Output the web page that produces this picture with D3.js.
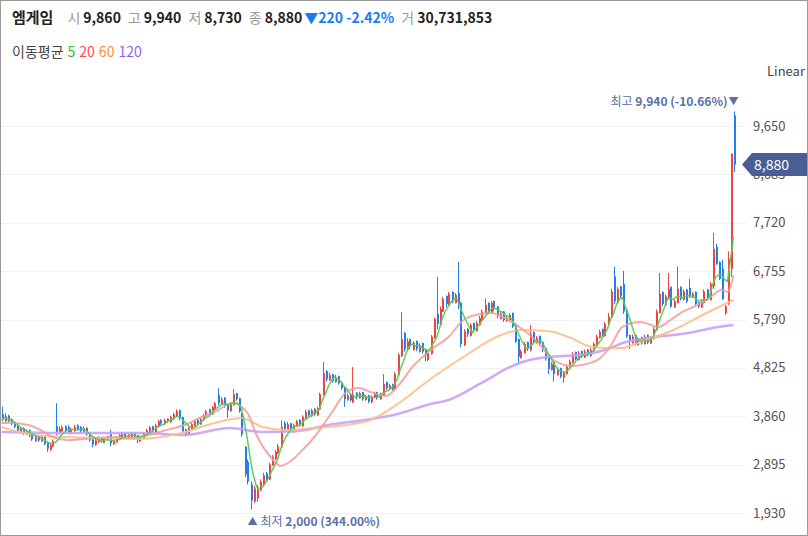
<!DOCTYPE html>
<html>
<head>
<meta charset="utf-8">
<script src="https://cdn.jsdelivr.net/npm/d3@7"></script>
<style>
    html, body { margin: 0; padding: 0; background: #fff; }
    #chart { position: relative; width: 808px; height: 536px; overflow: hidden;
             font-family: "Noto Sans CJK KR", "Noto Sans", sans-serif; }
    #chart svg { position: absolute; left: 0; top: 0; }
    .hdr { position: absolute; left: 12px; top: 6px; font-size: 14px; white-space: nowrap; color: #222; }
    .hdr .name { font-weight: bold; font-size: 15px; margin-right: 14px; }
    .hdr .lb { color: #999; margin-right: 3px; }
    .hdr .v { font-weight: bold; margin-right: 7px; }
    .hdr .dn { color: #1a7cf0; font-weight: bold; }
    .leg { position: absolute; left: 12px; top: 41px; font-size: 14px; color: #444; white-space: nowrap; }
    .leg span { margin-left: 4px; }
</style>
</head>
<body>
<div id="chart"></div>
<script>
// daily candles, oldest first
const opens = [3900,3760,3870,3800,3740,3680,3530,3620,3490,3580,3500,3360,3470,3360,3460,3330,3190,3260,3660,3520,
    3560,3660,3640,3510,3560,3680,3650,3540,3630,3510,3400,3290,3340,3440,3330,3460,3500,3300,3340,3390,
    3430,3530,3410,3440,3530,3480,3360,3420,3490,3550,3660,3540,3650,3780,3700,3810,3740,3800,3860,3980,
    3840,3600,3490,3600,3670,3790,3700,3780,3860,4000,3900,4000,4280,4100,4230,4100,3960,4080,4320,4220,
    3920,3250,2950,2500,2160,2220,2380,2500,2720,2600,2880,3000,3120,3240,3720,3580,3720,3540,3660,3790,
    3660,3820,3980,3860,4010,3880,4000,4280,4760,4580,4700,4540,4660,4540,4440,4180,4300,4140,4330,4220,
    4340,4180,4280,4140,4230,4340,4200,4280,4540,4400,4500,4380,4680,5060,5520,5180,5400,5180,5360,5140,
    5320,5200,4980,5100,5420,5900,5680,5950,6260,6060,6340,6120,6320,6120,5280,5600,5460,5720,5560,5680,
    5780,5920,6120,5920,6160,6050,5800,5950,5760,5780,5920,5700,5400,5020,5120,5340,5180,5540,5320,5460,
    5340,5220,5040,4780,4940,4680,4820,4630,4700,4820,4930,5140,4980,5160,5030,5190,5060,5160,5270,5420,
    5600,5460,5680,5830,6650,6120,6450,6500,5980,5480,5320,5480,5280,5440,5300,5480,5310,5400,5580,5920,
    6340,6080,6220,6440,6030,6120,6440,6180,6390,6420,6230,6340,6140,6030,6120,6390,6180,6450,7240,6940,
    6800,5920,6100,6800,9860];
const highs = [4050,3920,3890,3820,3760,3700,3650,3640,3600,3600,3510,3470,3480,3480,3470,3340,3310,3400,4120,3660,
    3680,3680,3690,3640,3690,3700,3660,3660,3640,3530,3410,3410,3460,3450,3450,3470,3590,3390,3450,3510,
    3550,3540,3510,3550,3540,3490,3470,3550,3610,3670,3670,3710,3790,3800,3810,3820,3870,3930,4000,3990,
    3850,3610,3650,3730,3790,3800,3830,3910,3990,4010,4070,4150,4420,4240,4240,4110,4130,4400,4330,4230,
    3930,3260,3000,2560,2470,2490,2600,2730,2750,2930,3090,3190,3310,3780,3770,3750,3730,3710,3790,3800,
    3880,3990,3990,4010,4020,4050,4330,4940,4780,4730,4710,4690,4670,4550,4450,4310,4310,4840,4340,4350,
    4350,4290,4290,4280,4350,4350,4330,4700,4550,4510,4510,4740,5120,5940,5540,5420,5410,5360,5370,5320,
    5330,5210,5180,5480,5830,6640,6050,6240,6270,6340,6350,6320,6940,6140,5600,5620,5720,5730,5760,5860,
    5990,6210,6130,6160,6170,6060,5950,5960,5860,5920,5930,5710,5410,5190,5340,5350,5680,5550,5460,5470,
    5350,5230,5050,4940,4950,4820,4830,4760,4890,4990,5140,5150,5160,5170,5190,5200,5220,5340,5490,5590,
    5610,5740,5920,6400,6840,6440,6460,6760,5990,5490,5490,5490,5440,5450,5490,5490,5460,5640,5990,6720,
    6350,6290,6720,6450,6190,6850,6450,6390,6400,6600,6340,6350,6150,6190,6390,6400,6540,7520,7300,6950,
    6980,6080,7150,9100,9940];
const lows = [3760,3740,3740,3680,3620,3530,3510,3490,3480,3440,3370,3350,3350,3350,3280,3150,3170,3240,3480,3500,
    3550,3550,3510,3500,3550,3570,3530,3530,3470,3350,3240,3270,3330,3330,3320,3370,3260,3290,3330,3380,
    3420,3410,3400,3430,3430,3320,3350,3410,3480,3540,3530,3530,3640,3690,3690,3730,3730,3790,3850,3780,
    3540,3460,3480,3590,3660,3690,3690,3770,3850,3890,3890,3990,4080,4090,4030,3830,3950,4070,4170,3930,
    3450,2650,2500,2000,2130,2150,2370,2470,2570,2590,2870,2990,3100,3230,3550,3570,3530,3530,3650,3650,
    3650,3810,3850,3850,3870,3870,3990,4270,4550,4570,4530,4530,4490,4390,4050,4170,4150,4120,4190,4210,
    4170,4170,4120,4120,4220,4190,4190,4270,4390,4390,4370,4370,4670,5040,5150,5160,5200,5170,5160,5130,
    5110,4960,4960,5090,5410,5600,5660,5940,6040,6050,6110,6110,6000,5240,5260,5440,5450,5560,5550,5670,
    5770,5910,5910,5910,5960,5810,5790,5740,5740,5770,5620,5320,4900,5010,5110,5160,5150,5310,5310,5260,
    5140,4970,4700,4770,4550,4670,4620,4530,4690,4810,4920,4970,4970,5020,5020,5050,5050,5150,5260,5410,
    5440,5450,5670,5820,6100,6110,6210,5900,5420,5200,5310,5270,5270,5290,5290,5300,5300,5390,5570,5910,
    6060,6070,6210,6020,6020,6110,6170,6170,6120,6220,6220,6070,6020,6020,6110,6170,6170,6400,6880,6580,
    6180,5880,6080,6640,8730];
const closes = [3800,3860,3770,3710,3650,3560,3610,3520,3570,3470,3400,3440,3380,3450,3310,3210,3280,3360,3540,3610,
    3640,3580,3540,3600,3650,3600,3560,3620,3500,3380,3300,3380,3420,3360,3420,3400,3320,3360,3420,3480,
    3510,3440,3480,3510,3460,3380,3440,3520,3580,3640,3560,3680,3760,3720,3780,3760,3840,3900,3960,3820,
    3560,3500,3620,3700,3760,3720,3800,3880,3960,3920,4040,4120,4120,4200,4060,3980,4100,4300,4200,3960,
    3500,2700,2560,2180,2420,2400,2550,2680,2600,2900,3050,3150,3260,3650,3600,3700,3560,3680,3760,3680,
    3850,3950,3880,3980,3900,4020,4300,4720,4600,4680,4560,4640,4520,4420,4200,4280,4180,4300,4240,4320,
    4200,4260,4150,4250,4320,4220,4300,4500,4420,4480,4400,4700,5080,5400,5200,5350,5250,5320,5200,5280,
    5150,5080,5120,5450,5800,5700,6000,6200,6100,6300,6150,6280,6100,5300,5550,5500,5680,5600,5720,5820,
    5950,6080,5950,6120,6000,5850,5900,5780,5820,5880,5650,5350,5050,5150,5300,5200,5500,5350,5420,5300,
    5180,5000,4800,4900,4700,4780,4650,4720,4850,4950,5100,5000,5120,5050,5150,5080,5180,5300,5450,5550,
    5480,5700,5850,6350,6150,6400,6250,5950,5450,5350,5450,5300,5400,5320,5450,5330,5420,5600,5950,6300,
    6100,6250,6400,6050,6150,6400,6200,6350,6150,6250,6300,6100,6050,6150,6350,6200,6500,7200,6900,6600,
    6200,6050,7000,9100,8880];

// moving averages (candle index, price)
const ma20Idx = [0,3,9,13,17,22,27,33,38,44,49,55,61,66,71,77,82,85,90,93,96,101,104,110,115,119,123,128,133,137,
    143,149,154,158,163,169,174,179,184,190,195,200,203,207,213,219,223,227,232,236,240,242,244];
const ma20Val = [3726,3726,3686,3586,3446,3386,3406,3426,3446,3426,3486,3586,3686,3825,3945,4125,3925,3486,3027,2868,
    2947,3227,3426,3925,4344,4424,4344,4264,4524,4843,5182,5441,5780,5880,5920,5780,5581,5322,4982,4863,
    4903,5042,5262,5641,5740,5641,5780,5940,6080,6219,6379,6339,6678];
const ma60Idx = [0,11,22,33,46,60,71,80,87,95,104,115,123,133,143,154,165,173,182,189,197,203,207,212,224,235,244];
const ma60Val = [3646,3486,3446,3426,3406,3526,3726,3825,3646,3586,3626,3686,3785,4144,4603,5042,5441,5581,5561,5441,
    5242,5222,5222,5322,5581,5920,6179];
const ma120Idx = [0,22,46,61,76,87,99,109,121,132,143,149,160,171,176,182,193,203,207,218,229,237,244];
const ma120Val = [3546,3526,3526,3486,3626,3546,3566,3686,3785,3905,4105,4184,4524,4883,4982,5042,5082,5222,5322,5441,
    5521,5621,5680];

const yTicks = [1930, 2895, 3860, 4825, 5790, 6755, 7720, 8685, 9650];
const maNames = ['5', '20', '60', '120'];
const maColors = ['#33bb33', '#ff4b4b', '#ff8a3d', '#9b5cf6'];

const W = 808, H = 536;
const UP = '#ef4444', DOWN = '#1f7ff0', NOTE = '#5b6fa6';

const chart = d3.select('#chart');

// header line
const hdr = chart.append('div').attr('class', 'hdr');
hdr.append('span').attr('class', 'name').text('엠게임');
[['시', '9,860'], ['고', '9,940'], ['저', '8,730'], ['종', '8,880']].forEach(([l, v]) => {
    hdr.append('span').attr('class', 'lb').text(l);
    hdr.append('span').attr('class', 'v').text(v);
});
hdr.append('span').attr('class', 'dn').style('margin-left', '-5px').text('▼220 -2.42%');
hdr.append('span').attr('class', 'lb').style('margin-left', '7px').text('거');
hdr.append('span').attr('class', 'v').text('30,731,853');

// moving-average legend
const leg = chart.append('div').attr('class', 'leg');
leg.append('span').style('margin-left', '0').text('이동평균');
maNames.forEach((n, k) => leg.append('span').style('color', maColors[k]).text(n));

const svg = chart.append('svg').attr('width', W).attr('height', H);

const x = d3.scaleLinear().domain([0, closes.length - 1]).range([1.5, 733.5]);
const y = d3.scaleLinear().domain([1930, 9650]).range([513, 126]);

// grid
svg.append('g').selectAll('line').data(yTicks).join('line')
    .attr('x1', 0).attr('x2', 746)
    .attr('y1', d => Math.round(y(d)) + 0.5).attr('y2', d => Math.round(y(d)) + 0.5)
    .attr('stroke', '#f1f1f1');

// axis labels
svg.append('g').selectAll('text').data(yTicks).join('text')
    .attr('x', 753).attr('y', d => y(d)).attr('dy', '0.35em')
    .attr('font-size', 13).attr('fill', '#555')
    .text(d => d3.format(',')(d));

svg.append('text').attr('x', 767).attr('y', 76).attr('font-size', 13).attr('fill', '#444').text('Linear');

const plot = svg.append('g');

// candles
const idx = d3.range(closes.length);
const candle = plot.selectAll('g.c').data(idx).join('g').attr('class', 'c')
    .attr('fill', i => closes[i] >= opens[i] ? UP : DOWN)
    .attr('stroke', i => closes[i] >= opens[i] ? UP : DOWN);
candle.append('line')
    .attr('x1', i => Math.round(x(i)) + 0.5).attr('x2', i => Math.round(x(i)) + 0.5)
    .attr('y1', i => y(highs[i])).attr('y2', i => y(lows[i]))
    .attr('stroke-width', 1);
candle.append('rect')
    .attr('x', i => Math.round(x(i)))
    .attr('width', 2)
    .attr('y', i => y(Math.max(opens[i], closes[i])))
    .attr('height', i => Math.max(1, Math.abs(y(opens[i]) - y(closes[i]))))
    .attr('stroke', 'none');

// moving averages
const curveLine = d3.line().x(d => x(d[0])).y(d => y(d[1])).curve(d3.curveMonotoneX);
const zip = (a, b) => a.map((v, k) => [v, b[k]]);
plot.append('path').datum(zip(ma120Idx, ma120Val)).attr('d', curveLine)
    .attr('fill', 'none').attr('stroke', '#c7a2f7').attr('stroke-width', 2.5).attr('opacity', 0.9);
plot.append('path').datum(zip(ma60Idx, ma60Val)).attr('d', curveLine)
    .attr('fill', 'none').attr('stroke', '#fbbf8e').attr('stroke-width', 2).attr('opacity', 0.9);
plot.append('path').datum(zip(ma20Idx, ma20Val)).attr('d', curveLine)
    .attr('fill', 'none').attr('stroke', '#f69a9a').attr('stroke-width', 2).attr('opacity', 0.85);

const ma5 = idx.map(i => [i, d3.mean(closes.slice(Math.max(0, i - 4), i + 1))]);
plot.append('path').datum(ma5)
    .attr('d', d3.line().x(d => x(d[0])).y(d => y(d[1])))
    .attr('fill', 'none').attr('stroke', '#55cc55').attr('stroke-width', 1.5).attr('opacity', 0.95);

// high / low notes
const hi = d3.maxIndex(highs), lo = d3.minIndex(lows);
const hiNote = svg.append('text').attr('x', x(hi) - 6).attr('y', y(highs[hi]) - 10).attr('dy', '0.35em')
    .attr('text-anchor', 'end').attr('font-size', 12).attr('fill', NOTE);
hiNote.append('tspan').text('최고 ');
hiNote.append('tspan').attr('font-weight', 'bold').text('9,940 (-10.66%)');
svg.append('text').attr('x', x(hi)).attr('y', y(highs[hi]) - 10).attr('dy', '0.35em')
    .attr('text-anchor', 'middle').attr('font-size', 10).attr('fill', NOTE).text('▼');

svg.append('text').attr('x', x(lo) + 2).attr('y', y(lows[lo]) + 12).attr('dy', '0.35em')
    .attr('text-anchor', 'middle').attr('font-size', 10).attr('fill', NOTE).text('▲');
const loNote = svg.append('text').attr('x', x(lo) + 10).attr('y', y(lows[lo]) + 12).attr('dy', '0.35em')
    .attr('font-size', 12).attr('fill', NOTE);
loNote.append('tspan').text('최저 ');
loNote.append('tspan').attr('font-weight', 'bold').text('2,000 (344.00%)');

// current price tag (covers the tick label under it, as on the original)
const last = closes[closes.length - 1];
const ty = y(last);
svg.append('path')
    .attr('d', `M742,${ty} L752,${ty - 11.5} L${W},${ty - 11.5} L${W},${ty + 11.5} L752,${ty + 11.5} Z`)
    .attr('fill', '#4a5e96');
svg.append('text').attr('x', 754).attr('y', ty).attr('dy', '0.36em')
    .attr('font-size', 14).attr('fill', '#fff').text(d3.format(',')(last));

// frame
svg.append('rect').attr('x', 0.5).attr('y', 0.5).attr('width', W - 1).attr('height', H - 1)
    .attr('fill', 'none').attr('stroke', '#999');
</script>
</body>
</html>
